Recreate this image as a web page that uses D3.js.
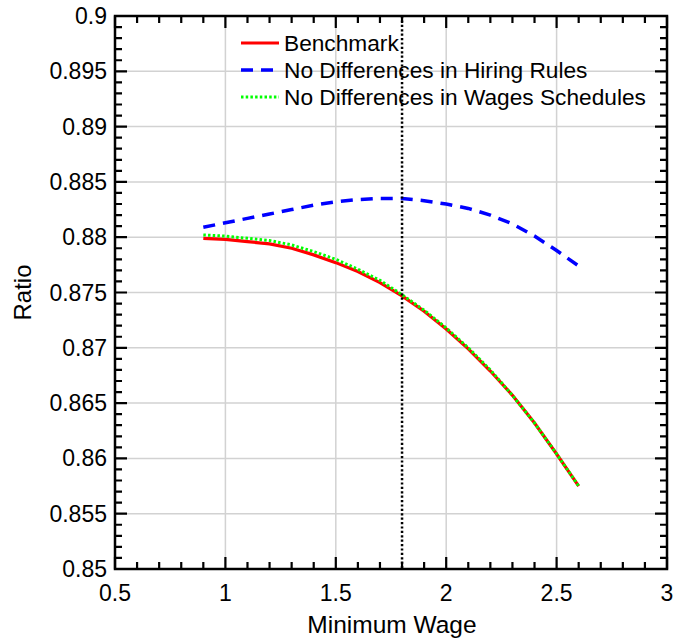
<!DOCTYPE html>
<html>
<head>
<meta charset="utf-8">
<script src="https://cdn.jsdelivr.net/npm/d3@7"></script>
<style>
  html, body { margin: 0; padding: 0; background: #fff; }
  svg { display: block; font-family: "Liberation Sans", Arial, Helvetica, sans-serif; }
</style>
</head>
<body>
<svg id="chart" width="675" height="641"></svg>
<script>
// Minimum wage grid
const minWage = [0.9, 1.0, 1.1, 1.2, 1.3, 1.4, 1.5, 1.6, 1.7, 1.8, 1.9, 2.0, 2.1, 2.2, 2.3, 2.4, 2.5, 2.6];

// Ratio under each scenario
const benchmark = [0.8799, 0.8798, 0.8796, 0.8794, 0.8790, 0.8784, 0.8777, 0.8769, 0.8759, 0.8747,
                   0.8733, 0.8717, 0.8699, 0.8679, 0.8657, 0.8632, 0.8604, 0.8575];
const noHiringDiff = [0.8809, 0.8813, 0.8817, 0.8821, 0.8825, 0.8829, 0.8832, 0.8834, 0.8835, 0.8835,
                      0.8833, 0.8830, 0.8826, 0.8820, 0.8812, 0.8801, 0.8788, 0.8774];
const noWageDiff = [0.8802, 0.8801, 0.8799, 0.8797, 0.8793, 0.8787, 0.8780, 0.8771, 0.8761, 0.8748,
                    0.8734, 0.8718, 0.8700, 0.8680, 0.8657, 0.8632, 0.8604, 0.8575];

const seriesNames = ["Benchmark", "No Differences in Hiring Rules", "No Differences in Wages Schedules"];

// Reference minimum wage marker
const refWage = [1.8];

// Axis ticks
const xTicks = [0.5, 1, 1.5, 2, 2.5, 3];
const yTicks = [0.85, 0.855, 0.86, 0.865, 0.87, 0.875, 0.88, 0.885, 0.89, 0.895, 0.9];
const xTickLabels = ["0.5", "1", "1.5", "2", "2.5", "3"];
const yTickLabels = ["0.85", "0.855", "0.86", "0.865", "0.87", "0.875", "0.88", "0.885", "0.89", "0.895", "0.9"];
const xMinorTicks = [0.6, 0.7, 0.8, 0.9, 1.1, 1.2, 1.3, 1.4, 1.6, 1.7, 1.8, 1.9,
                     2.1, 2.2, 2.3, 2.4, 2.6, 2.7, 2.8, 2.9];
const yMinorTicks = [];
for (let k = 850; k < 900; k++) if (k % 5 !== 0) yMinorTicks.push(k / 1000);

const svg = d3.select("#chart");
const L = 115, R = 667, T = 16, B = 569;

const x = d3.scaleLinear().domain([0.5, 3]).range([L, R]);
const y = d3.scaleLinear().domain([0.85, 0.9]).range([B, T]);

// Grid lines at major ticks
xTicks.slice(1, -1).forEach(v => {
  svg.append("line").attr("x1", x(v)).attr("x2", x(v)).attr("y1", T).attr("y2", B)
    .attr("stroke", "#d2d2d2").attr("stroke-width", 1.5);
});
yTicks.slice(1, -1).forEach(v => {
  svg.append("line").attr("y1", y(v)).attr("y2", y(v)).attr("x1", L).attr("x2", R)
    .attr("stroke", "#d2d2d2").attr("stroke-width", 1.5);
});

// Curves
const line = vals => d3.line().x((d, i) => x(minWage[i])).y(d => y(d))(vals);

svg.append("path").attr("d", line(benchmark))
  .attr("fill", "none").attr("stroke", "#ff0000").attr("stroke-width", 3.2);
svg.append("path").attr("d", line(noHiringDiff))
  .attr("fill", "none").attr("stroke", "#0000ff").attr("stroke-width", 3.5)
  .attr("stroke-dasharray", "12,8");
svg.append("path").attr("d", line(noWageDiff))
  .attr("fill", "none").attr("stroke", "#00ff00").attr("stroke-width", 3)
  .attr("stroke-dasharray", "2.5,2.2");

// Vertical reference line
refWage.forEach(v => {
  svg.append("line").attr("x1", x(v)).attr("x2", x(v)).attr("y1", T).attr("y2", B)
    .attr("stroke", "#000").attr("stroke-width", 2.5).attr("stroke-dasharray", "2.2,2.2");
});

// Frame
svg.append("rect").attr("x", L).attr("y", T).attr("width", R - L).attr("height", B - T)
  .attr("fill", "none").attr("stroke", "#000").attr("stroke-width", 2.5);

// Inward tick marks on all four sides, one path per set
const xTickD = (values, len) => values.map(v =>
  `M${x(v)},${B}L${x(v)},${B - len}M${x(v)},${T}L${x(v)},${T + len}`).join("");
const yTickD = (values, len) => values.map(v =>
  `M${L},${y(v)}L${L + len},${y(v)}M${R},${y(v)}L${R - len},${y(v)}`).join("");
svg.append("path").attr("d", xTickD(xTicks, 12) + yTickD(yTicks, 12))
  .attr("stroke", "#000000").attr("stroke-width", 2.2).attr("fill", "none");
svg.append("path").attr("d", xTickD(xMinorTicks, 7) + yTickD(yMinorTicks, 7))
  .attr("stroke", "#000000").attr("stroke-width", 2.2).attr("fill", "none");

// Tick labels
xTicks.forEach((v, i) => {
  svg.append("text").attr("x", x(v)).attr("y", 601)
    .attr("text-anchor", "middle").attr("font-size", 23).attr("fill", "#000")
    .text(xTickLabels[i]);
});
yTicks.forEach((v, i) => {
  svg.append("text").attr("x", 107).attr("y", y(v) + 8)
    .attr("text-anchor", "end").attr("font-size", 23).attr("fill", "#000")
    .text(yTickLabels[i]);
});

// Axis titles
svg.append("text").attr("x", (L + R) / 2 + 1).attr("y", 633)
  .attr("text-anchor", "middle").attr("font-size", 24.5).attr("fill", "#000")
  .text("Minimum Wage");
svg.append("text").attr("transform", `translate(31,${(T + B) / 2}) rotate(-90)`)
  .attr("text-anchor", "middle").attr("font-size", 24).attr("fill", "#000")
  .text("Ratio");

// Legend
const legendStyles = [
  { color: "#ff0000", width: 3.2, dash: null },
  { color: "#0000ff", width: 3.5, dash: "12,8" },
  { color: "#00ff00", width: 3, dash: "2.5,2.2" }
];
seriesNames.forEach((name, i) => {
  const cy = 43 + i * 27;
  const s = legendStyles[i];
  svg.append("line").attr("x1", 241).attr("x2", 279).attr("y1", cy).attr("y2", cy)
    .attr("stroke", s.color).attr("stroke-width", s.width)
    .attr("stroke-dasharray", s.dash);
  svg.append("text").attr("x", 284).attr("y", cy + 8)
    .attr("font-size", 22.7).attr("fill", "#000").text(name);
});
</script>
</body>
</html>
